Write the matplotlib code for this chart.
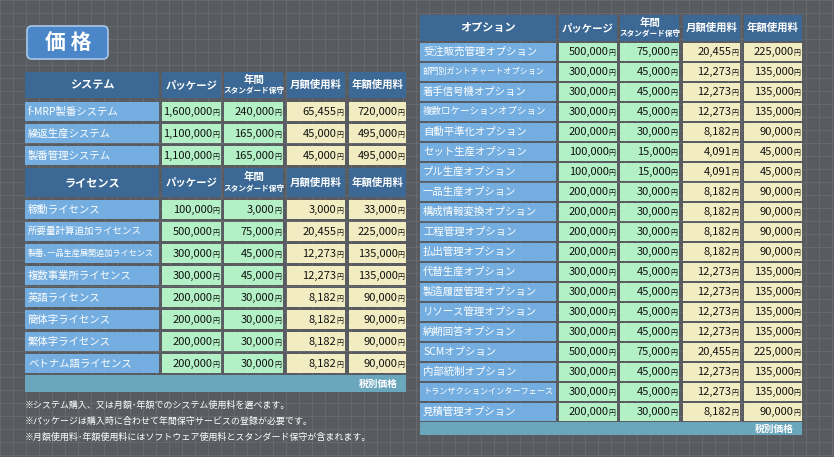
import matplotlib
matplotlib.use("Agg")
import matplotlib.pyplot as plt
from matplotlib.patches import Rectangle, FancyBboxPatch

plt.rcParams['font.family'] = ['Noto Sans CJK JP', 'DejaVu Sans']

col_headers = ["パッケージ", "年間\nスタンダード保守", "月額使用料", "年額使用料"]

sys_names = ["f-MRP製番システム", "繰返生産システム", "製番管理システム"]
sys_pkg = [1600000, 1100000, 1100000]
sys_mnt = [240000, 165000, 165000]
sys_mon = [65455, 45000, 45000]
sys_ann = [720000, 495000, 495000]

lic_names = ["稼動ライセンス", "所要量計算追加ライセンス", "製番､一品生産展開追加ライセンス", "複数事業所ライセンス",
             "英語ライセンス", "簡体字ライセンス", "繁体字ライセンス", "ベトナム語ライセンス"]
lic_pkg = [100000, 500000, 300000, 300000, 200000, 200000, 200000, 200000]
lic_mnt = [3000, 75000, 45000, 45000, 30000, 30000, 30000, 30000]
lic_mon = [3000, 20455, 12273, 12273, 8182, 8182, 8182, 8182]
lic_ann = [33000, 225000, 135000, 135000, 90000, 90000, 90000, 90000]

opt_names = ["受注販売管理オプション", "部門別ガントチャートオプション", "着手信号機オプション", "複数ロケーションオプション",
             "自動平準化オプション", "セット生産オプション", "プル生産オプション", "一品生産オプション",
             "構成情報変換オプション", "工程管理オプション", "払出管理オプション", "代替生産オプション",
             "製造履歴管理オプション", "リソース管理オプション", "納期回答オプション", "SCMオプション",
             "内部統制オプション", "トランザクションインターフェース", "見積管理オプション"]
opt_pkg = [500000, 300000, 300000, 300000, 200000, 100000, 100000, 200000, 200000, 200000, 200000,
           300000, 300000, 300000, 300000, 500000, 300000, 300000, 200000]
opt_mnt = [75000, 45000, 45000, 45000, 30000, 15000, 15000, 30000, 30000, 30000, 30000,
           45000, 45000, 45000, 45000, 75000, 45000, 45000, 30000]
opt_mon = [20455, 12273, 12273, 12273, 8182, 4091, 4091, 8182, 8182, 8182, 8182,
           12273, 12273, 12273, 12273, 20455, 12273, 12273, 8182]
opt_ann = [225000, 135000, 135000, 135000, 90000, 45000, 45000, 90000, 90000, 90000, 90000,
           135000, 135000, 135000, 135000, 225000, 135000, 135000, 90000]

notes = ["※システム購入、又は月額･年額でのシステム使用料を選べます。",
         "※パッケージは購入時に合わせて年間保守サービスの登録が必要です。",
         "※月額使用料･年額使用料にはソフトウェア使用料とスタンダード保守が含まれます。"]

BG = "#585c60"
HDR = "#3b6894"
NAME = "#74aee0"
GREEN = "#b4f0c6"
CREAM = "#f1ecc2"
TAX = "#6aa6bc"

fig = plt.figure(figsize=(8.34, 4.57), dpi=100)
ax = fig.add_axes([0, 0, 1, 1])
ax.set_xlim(0, 834)
ax.set_ylim(457, 0)
ax.axis('off')
fig.patch.set_facecolor(BG)
for g in range(0, 834, 13):
    ax.plot([g, g], [0, 457], color="#686c70", lw=0.6, zorder=0)
for g in range(0, 457, 13):
    ax.plot([0, 834], [g, g], color="#686c70", lw=0.6, zorder=0)

ax.add_patch(FancyBboxPatch((27, 26), 81, 33, boxstyle="round,pad=0,rounding_size=5",
                            fc="#4a86c8", ec="#a8c8e8", lw=1.2, zorder=2))
ax.text(68, 43, "価 格", color="white", fontsize=15, fontweight='bold', ha='center', va='center', zorder=3)

def fmt(v):
    return f"{v:,}"

def header(cols, y0, h, title):
    x0, x1 = cols[0]
    ax.add_patch(Rectangle((x0, y0), x1 - x0, h, fc=HDR, ec='none', zorder=2))
    ax.text((x0 + x1) / 2, y0 + h / 2, title, color='white', fontsize=8, fontweight='bold',
            ha='center', va='center', zorder=3)
    for (a, b), t in zip(cols[1:], col_headers):
        ax.add_patch(Rectangle((a, y0), b - a, h, fc=HDR, ec='none', zorder=2))
        if "\n" in t:
            l1, l2 = t.split("\n")
            ax.text((a + b) / 2, y0 + h * 0.3, l1, color='white', fontsize=7.5, fontweight='bold',
                    ha='center', va='center', zorder=3)
            ax.text((a + b) / 2, y0 + h * 0.72, l2, color='white', fontsize=5.5, fontweight='bold',
                    ha='center', va='center', zorder=3)
        else:
            ax.text((a + b) / 2, y0 + h / 2, t, color='white', fontsize=7.5, fontweight='bold',
                    ha='center', va='center', zorder=3)

def rows(cols, ys, h, names, *vals):
    for i, y in enumerate(ys):
        x0, x1 = cols[0]
        ax.add_patch(Rectangle((x0, y), x1 - x0, h, fc=NAME, ec='none', zorder=2))
        nm = names[i]
        fs = 5.9 if len(nm) > 14 else (6.8 if len(nm) > 11 else 7.5)
        ax.text(x0 + 3, y + h / 2, nm, color='white', fontsize=fs, ha='left', va='center', zorder=3)
        for j, ((a, b), v) in enumerate(zip(cols[1:], vals)):
            ax.add_patch(Rectangle((a, y), b - a, h, fc=GREEN if j < 2 else CREAM, ec='none', zorder=2))
            ax.text(b - 8.5, y + h / 2 + 0.5, fmt(v[i]), color='#111', fontsize=8, ha='right', va='center', zorder=3)
            ax.text(b - 1.5, y + h / 2 + 1, "円", color='#111', fontsize=5, ha='right', va='center', zorder=3)

def taxbar(x0, x1, y, h):
    ax.add_patch(Rectangle((x0, y), x1 - x0, h, fc=TAX, ec='none', zorder=2))
    ax.text(x1 - 8, y + h / 2, "税別価格", color='white', fontsize=7, fontweight='bold',
            ha='right', va='center', zorder=3)

Lcols = [(25, 159), (162, 221), (224, 283), (287, 345), (349, 406)]
header(Lcols, 72, 26, "システム")
rows(Lcols, [102 + 22 * i for i in range(len(sys_names))], 19, sys_names, sys_pkg, sys_mnt, sys_mon, sys_ann)
header(Lcols, 168, 29, "ライセンス")
rows(Lcols, [200 + 22 * i for i in range(len(lic_names))], 19, lic_names, lic_pkg, lic_mnt, lic_mon, lic_ann)
taxbar(25, 406, 375, 17)
for i, n in enumerate(notes):
    ax.text(25, 405 + 16 * i, n, color='white', fontsize=6.5, ha='left', va='center', zorder=3)

Rcols = [(420, 556), (559, 617), (620, 679), (683, 740), (744, 802)]
header(Rcols, 15, 26, "オプション")
rows(Rcols, [43 + 20 * i for i in range(len(opt_names))], 17.5, opt_names, opt_pkg, opt_mnt, opt_mon, opt_ann)
taxbar(420, 802, 422, 13)

fig.savefig("out.png", dpi=100, facecolor=BG)
